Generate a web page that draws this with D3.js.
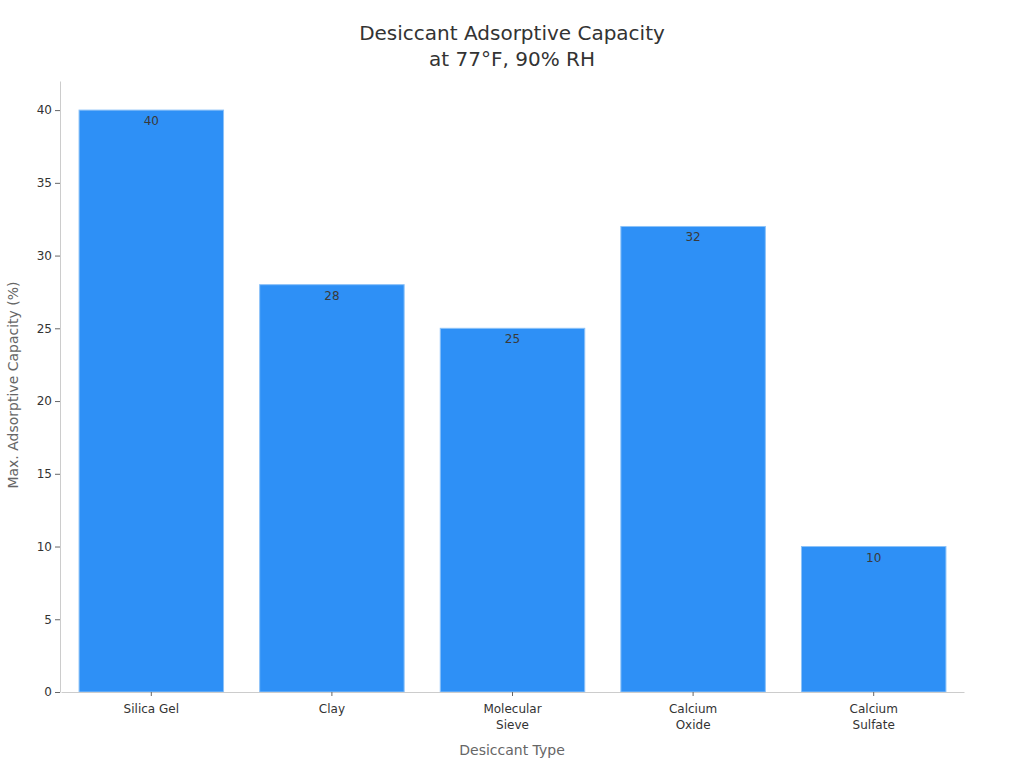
<!DOCTYPE html>
<html>
<head>
<meta charset="utf-8">
<script src="https://cdn.jsdelivr.net/npm/d3@7"></script>
<style>
  body { margin: 0; background: #fff; }
  text { font-family: "DejaVu Sans", sans-serif; }
</style>
</head>
<body>
<div id="chart"></div>
<script>
const categories = [['Silica Gel'], ['Clay'], ['Molecular', 'Sieve'], ['Calcium', 'Oxide'], ['Calcium', 'Sulfate']];
const capacity = [40, 28, 25, 32, 10];
const yTicks = [0, 5, 10, 15, 20, 25, 30, 35, 40];

const width = 1024, height = 768;
const margin = { top: 81, right: 60, bottom: 76, left: 60 };

const svg = d3.select('#chart')
  .append('svg')
  .attr('width', width)
  .attr('height', height);

const names = categories.map(c => c.join(' '));

const x = d3.scaleBand()
  .domain(names)
  .range([margin.left + 1, width - margin.right])
  .paddingInner(0.2)
  .paddingOuter(0.1);

const y = d3.scaleLinear()
  .domain([0, 42])
  .range([height - margin.bottom, margin.top]);

// Title
svg.append('text')
  .attr('x', 512).attr('y', 40)
  .attr('text-anchor', 'middle')
  .style('font-size', '20px').style('fill', '#333')
  .text('Desiccant Adsorptive Capacity');
svg.append('text')
  .attr('x', 512).attr('y', 66)
  .attr('text-anchor', 'middle')
  .style('font-size', '20px').style('fill', '#333')
  .text('at 77°F, 90% RH');

// Bars
svg.selectAll('rect.bar')
  .data(capacity)
  .enter()
  .append('rect')
  .attr('class', 'bar')
  .attr('x', (d, i) => x(names[i]))
  .attr('y', d => y(d))
  .attr('width', x.bandwidth())
  .attr('height', d => y(0) - y(d))
  .attr('fill', '#2e90f6')
  .attr('stroke', '#8cc2f8')
  .attr('stroke-width', 1);

// Value labels
svg.selectAll('text.val')
  .data(capacity)
  .enter()
  .append('text')
  .attr('class', 'val')
  .attr('x', (d, i) => x(names[i]) + x.bandwidth() / 2)
  .attr('y', d => y(d) + 15)
  .attr('text-anchor', 'middle')
  .style('font-size', '12px')
  .style('fill', '#3a3a3a')
  .text(d => d);

// Y axis
const yAxis = svg.append('g')
  .attr('transform', `translate(${margin.left},0)`)
  .call(d3.axisLeft(y).tickValues(yTicks).tickSize(5).tickSizeOuter(0));
yAxis.select('.domain').attr('stroke', '#ccc');
yAxis.selectAll('.tick line').attr('stroke', '#666');
yAxis.selectAll('.tick text')
  .style('font-size', '12px').style('fill', '#333')
  .style('font-family', '"DejaVu Sans", sans-serif');

// X axis
const xAxis = svg.append('g')
  .attr('transform', `translate(0,${height - margin.bottom})`)
  .call(d3.axisBottom(x).tickSize(4).tickSizeOuter(0));
xAxis.select('.domain').attr('stroke', '#ccc');
xAxis.selectAll('.tick line').attr('stroke', '#666');
xAxis.selectAll('.tick text').remove();
xAxis.selectAll('.tick').each(function(d, i) {
  const t = d3.select(this).append('text')
    .attr('y', 21)
    .attr('text-anchor', 'middle')
    .style('font-size', '12px').style('fill', '#333')
    .style('font-family', '"DejaVu Sans", sans-serif');
  categories[i].forEach((line, j) => {
    t.append('tspan').attr('x', 0).attr('dy', j === 0 ? 0 : 16).text(line);
  });
});

// Axis titles
svg.append('text')
  .attr('x', 512).attr('y', 755)
  .attr('text-anchor', 'middle')
  .style('font-size', '14px').style('fill', '#666')
  .text('Desiccant Type');
svg.append('text')
  .attr('transform', 'translate(18,385) rotate(-90)')
  .attr('text-anchor', 'middle')
  .style('font-size', '14px').style('fill', '#666')
  .text('Max. Adsorptive Capacity (%)');
</script>
</body>
</html>
